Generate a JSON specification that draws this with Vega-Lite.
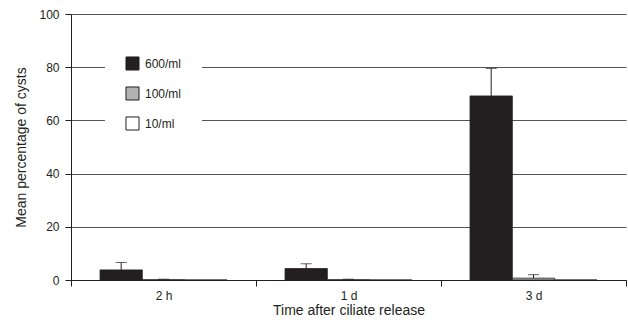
{
  "$schema": "https://vega.github.io/schema/vega-lite/v6.json",
  "width": 555,
  "height": 266,
  "autosize": {"type": "none"},
  "padding": {"left": 71, "top": 14, "right": 2, "bottom": 47},
  "background": "white",
  "config": {
    "view": {"stroke": null},
    "font": "Liberation Sans",
    "axis": {"labelFont": "Liberation Sans", "titleFont": "Liberation Sans", "titleFontWeight": "normal"}
  },
  "data": {
    "values": [
      {"time": "2 h", "density": "600/ml", "value": 3.8, "upper": 6.6},
      {"time": "2 h", "density": "100/ml", "value": 0.1, "upper": 0.3},
      {"time": "2 h", "density": "10/ml", "value": 0, "upper": null},
      {"time": "1 d", "density": "600/ml", "value": 4.3, "upper": 6.1},
      {"time": "1 d", "density": "100/ml", "value": 0.1, "upper": 0.3},
      {"time": "1 d", "density": "10/ml", "value": 0, "upper": null},
      {"time": "3 d", "density": "600/ml", "value": 69.2, "upper": 79.5},
      {"time": "3 d", "density": "100/ml", "value": 0.7, "upper": 2.0},
      {"time": "3 d", "density": "10/ml", "value": 0, "upper": null}
    ]
  },
  "encoding": {
    "x": {
      "field": "time", "type": "nominal", "sort": ["2 h", "1 d", "3 d"],
      "scale": {"paddingInner": 0, "paddingOuter": 0},
      "axis": {
        "title": "Time after ciliate release", "titleFontSize": 14, "titleColor": "#231f20", "titlePadding": 2,
        "labelAngle": 0, "labelFontSize": 12, "labelColor": "#231f20", "labelPadding": 4,
        "tickBand": "extent", "tickSize": 6, "tickColor": "#231f20", "domainColor": "#231f20", "grid": false
      }
    },
    "xOffset": {
      "field": "density", "type": "nominal", "sort": ["600/ml", "100/ml", "10/ml"],
      "scale": {"paddingInner": 0, "paddingOuter": 0.686}
    }
  },
  "layer": [
    {
      "mark": {"type": "bar", "stroke": "#231f20", "strokeWidth": 0.8},
      "encoding": {
        "y": {
          "field": "value", "type": "quantitative",
          "scale": {"domain": [0, 100], "nice": false},
          "axis": {
            "title": "Mean percentage of cysts", "titleFontSize": 14, "titleColor": "#231f20", "titlePadding": 10,
            "values": [0, 20, 40, 60, 80, 100], "labelFontSize": 12, "labelColor": "#231f20", "labelPadding": 6,
            "tickSize": 6, "tickColor": "#231f20", "domainColor": "#231f20",
            "grid": true, "gridColor": "#555555", "gridWidth": 1
          }
        },
        "fill": {
          "field": "density", "type": "nominal",
          "scale": {"domain": ["600/ml", "100/ml", "10/ml"], "range": ["#231f20", "#b3b3b3", "#ffffff"]},
          "legend": {
            "title": null, "orient": "none", "legendX": 34, "legendY": 22,
            "fillColor": "white", "padding": 20, "symbolType": "square", "symbolSize": 170,
            "symbolStrokeColor": "#231f20", "symbolStrokeWidth": 1, "rowPadding": 11,
            "labelFontSize": 12, "labelColor": "#231f20", "labelOffset": 5, "labelFont": "Liberation Sans"
          }
        }
      }
    },
    {
      "transform": [{"filter": "datum.upper != null"}],
      "mark": {"type": "rule", "color": "#231f20", "strokeWidth": 1},
      "encoding": {
        "y": {"field": "value", "type": "quantitative"},
        "y2": {"field": "upper"}
      }
    },
    {
      "transform": [{"filter": "datum.upper != null"}],
      "mark": {"type": "tick", "color": "#231f20", "size": 11, "thickness": 1, "orient": "horizontal"},
      "encoding": {
        "y": {"field": "upper", "type": "quantitative"}
      }
    }
  ]
}
